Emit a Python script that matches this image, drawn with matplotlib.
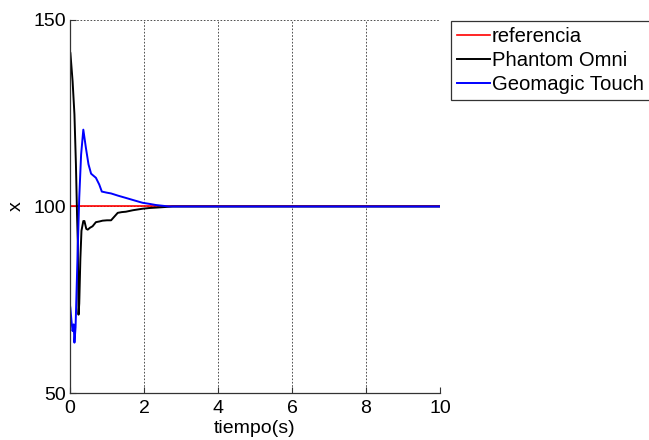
import matplotlib
matplotlib.use("Agg")
import matplotlib.pyplot as plt
import numpy as np

plt.rcParams["font.family"] = ["Liberation Sans", "DejaVu Sans"]

# reference signal
ref_t = [0, 10]
ref_x = [100, 100]

# Phantom Omni response
omni_t = [0.0, 0.01, 0.07, 0.12, 0.16, 0.19, 0.21, 0.23, 0.25, 0.28, 0.31,
          0.36, 0.39, 0.44, 0.48, 0.54, 0.61, 0.70, 0.80, 0.88, 1.00, 1.11,
          1.20, 1.29, 1.40, 1.51, 1.70, 1.96, 2.15, 2.32, 2.55, 2.77, 3.0, 10.0]
omni_x = [141.5, 141.2, 133.6, 124.7, 111.3, 97.9, 90.7, 71.0, 74.0, 86.0,
          93.5, 96.1, 96.1, 94.0, 93.8, 94.3, 94.7, 95.8, 96.0, 96.2, 96.3,
          96.3, 97.3, 98.3, 98.5, 98.6, 99.0, 99.4, 99.6, 99.7, 99.85, 100.0,
          100.0, 100.0]

# Geomagic Touch response
touch_t = [0.0, 0.01, 0.04, 0.07, 0.10, 0.12, 0.15, 0.16, 0.21, 0.25, 0.30,
           0.36, 0.43, 0.50, 0.57, 0.64, 0.70, 0.79, 0.86, 1.00, 1.11, 1.30,
           1.51, 1.75, 1.96, 2.15, 2.32, 2.50, 2.68, 3.0, 10.0]
touch_x = [73.5, 72.8, 69.3, 66.6, 68.4, 63.5, 67.6, 71.0, 89.0, 102.4, 113.9,
           120.6, 115.7, 111.3, 108.8, 108.2, 107.7, 105.9, 104.0, 103.7, 103.5,
           102.9, 102.3, 101.6, 101.0, 100.7, 100.4, 100.2, 100.0, 100.0, 100.0]

fig = plt.figure(figsize=(6.49, 4.40), dpi=100)
ax = fig.add_axes([70 / 649, 47 / 440, 370 / 649, 373 / 440])

ax.plot(ref_t, ref_x, color="#ff0000", lw=1.2, label="referencia")
ax.plot(omni_t, omni_x, color="black", lw=1.4, label="Phantom Omni")
ax.plot(touch_t, touch_x, color="#0000ff", lw=1.4, label="Geomagic Touch")

ax.set_xlim(0, 10)
ax.set_ylim(50, 150)
ax.set_xticks([0, 2, 4, 6, 8, 10])
ax.set_yticks([50, 100, 150])
ax.grid(True, color="black", linestyle=(0, (2, 2)), lw=0.6, alpha=0.8)
ax.set_axisbelow(True)

for s in ["top", "right"]:
    ax.spines[s].set_visible(False)
for s in ["left", "bottom"]:
    ax.spines[s].set_color("#333333")
    ax.spines[s].set_linewidth(0.9)

ax.tick_params(direction="in", length=4, width=0.8, labelsize=14,
               colors="#333333", labelcolor="black")
ax.tick_params(axis="x", pad=5)
ax.tick_params(axis="y", pad=3)
ax.set_xlabel("tiempo(s)", fontsize=14, labelpad=2)
ax.set_ylabel("x", fontsize=14, labelpad=6)

leg = ax.legend(loc="upper left", bbox_to_anchor=(451 / 649, 1 - 21 / 440),
                bbox_transform=fig.transFigure, fontsize=14.6, frameon=True,
                fancybox=False, edgecolor="#333333", framealpha=1,
                borderpad=0.3, labelspacing=0.25, handlelength=1.6,
                handletextpad=0.1, borderaxespad=0)
leg.get_frame().set_linewidth(0.9)

fig.savefig("out.png", dpi=100)
